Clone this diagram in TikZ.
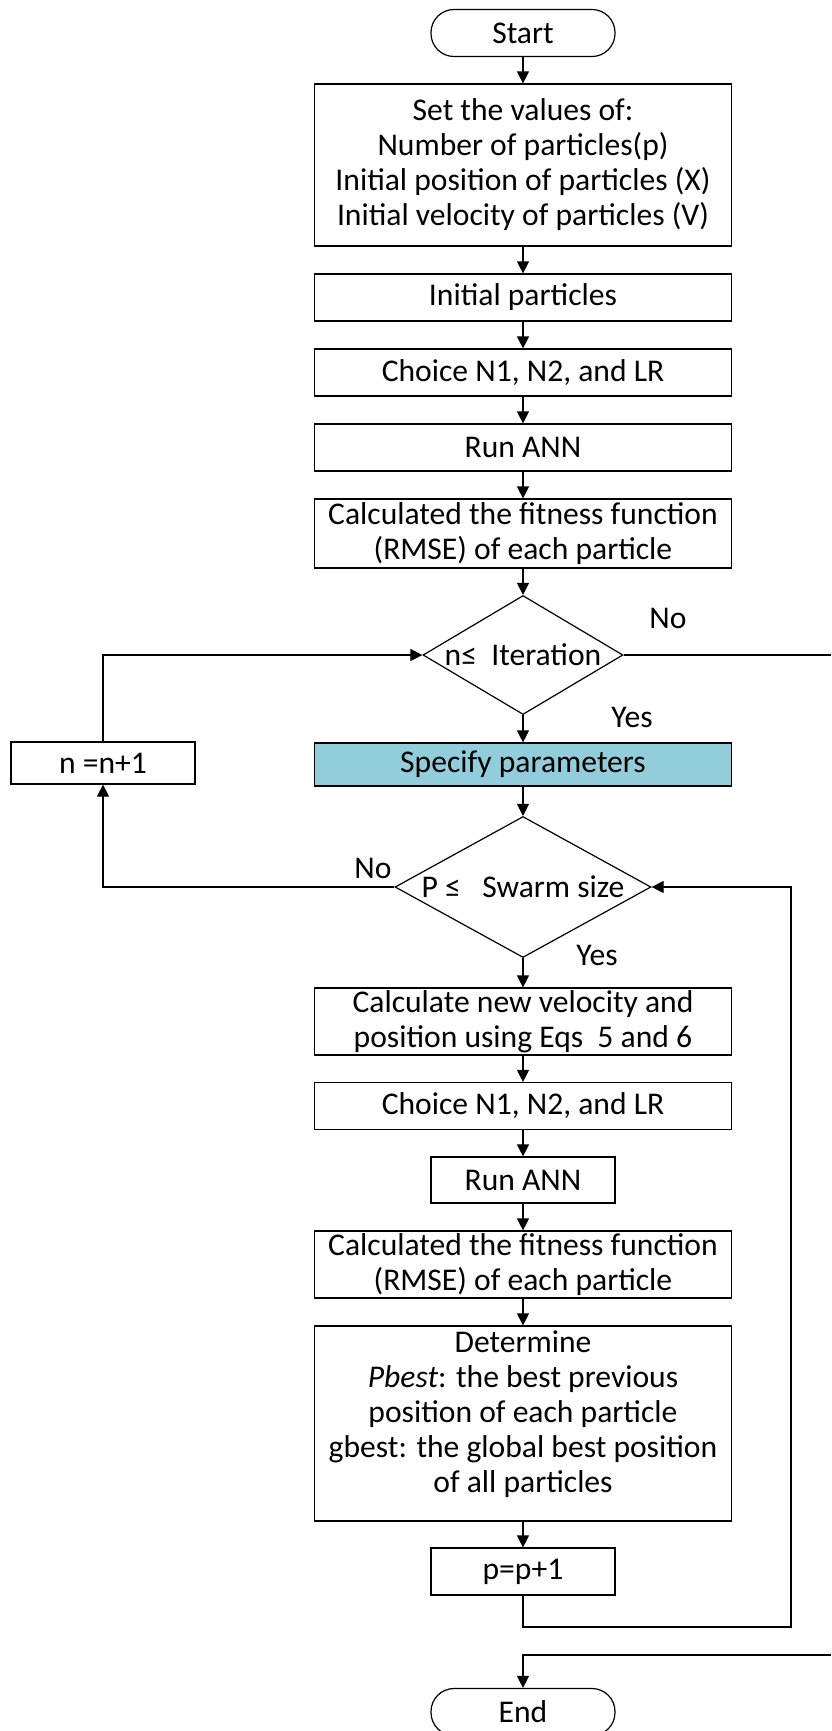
\documentclass[tikz,border=0pt]{standalone}
\usepackage{fontspec}
\setmainfont{Carlito}
\usepackage{tikz}
\usetikzlibrary{shapes.geometric}
\usetikzlibrary{arrows.meta}
\usetikzlibrary{positioning}
\definecolor{specblue}{HTML}{92CDDC}
\newcommand{\dtext}[1]{\smash{\makebox[0pt]{\raisebox{-5pt}{#1}}}}
\tikzset{
	box/.style={
			rectangle,draw=black,line width=0.6pt,align=center,inner sep=1pt,
			minimum width=208.5pt,minimum height=23.5pt,
			font=\fontsize{15.8}{17.5}\selectfont
		},
	term/.style={
			box,rounded corners=11.5pt,minimum width=92pt
		},
	decision/.style={
			diamond,draw=black,line width=0.6pt,inner sep=0pt,
			font=\fontsize{15.8}{17.5}\selectfont
		},
	lbl/.style={font=\fontsize{15.8}{17.5}\selectfont,inner sep=0pt},
	arr/.style={line width=0.6pt,-{Triangle[length=6pt,width=6pt]}},
	ln/.style={line width=0.6pt}
}

\begin{document}
\begin{tikzpicture}[x=0.5pt,y=-0.5pt]
  \useasboundingbox (0,0) rectangle (831,1731);

  % main column
  \node[term] (start) at (523,33) {Start};
  \node[box,minimum height=81pt] (setv) at (523,165) {Set the values of:\\Number of particles(p)\\Initial position of particles (X)\\Initial velocity of particles (V)};
  \node[box] (initp) at (523,297.5) {Initial particles};
  \node[box] (choice1) at (523,372.5) {Choice N1, N2, and LR};
  \node[box] (run1) at (523,447.5) {Run ANN};
  \node[box,minimum height=34.5pt] (fit1) at (523,533.5) {Calculated the fitness function\\(RMSE) of each particle};
  \node[decision,minimum width=100pt,minimum height=59.5pt] (iter) at (523,655) {\dtext{n≤\ \ Iteration}};
  \node[box,fill=specblue,minimum height=21.5pt] (spec) at (523,764.5) {Specify parameters};
  \node[box,minimum width=92pt,minimum height=21pt] (nn) at (103,763) {n =n+1};
  \node[decision,minimum width=128pt,minimum height=70.5pt] (swarm) at (523,887) {\dtext{P ≤\ \ \ Swarm size}};
  \node[box,minimum height=33.5pt] (calc) at (523,1021.5) {Calculate new velocity and\\position using Eqs\ \ 5 and 6};
  \node[box] (choice2) at (523,1106) {Choice N1, N2, and LR};
  \node[box,minimum width=92pt,minimum height=23pt] (run2) at (523,1180) {Run ANN};
  \node[box,minimum height=33.5pt] (fit2) at (523,1264.5) {Calculated the fitness function\\(RMSE) of each particle};
  \node[box,minimum height=97.5pt] (det) at (523,1423.5) {Determine\\\textit{Pbest}: the best previous\\position of each particle\\gbest: the global best position\\of all particles\rule[-12pt]{0pt}{0pt}};
  \node[box,minimum width=92pt] (pp) at (523,1571.5) {p=p+1};
  \node[term] (end) at (523,1712) {End};

  % free ends
  \coordinate (noout) at (831,655);
  \coordinate (loopc) at (791,1627);
  \coordinate (endin) at (831,1655);

  % labels
  \node[lbl] (no1) at (668,618) {No};
  \node[lbl] (yes1) at (632,717) {Yes};
  \node[lbl] (no2) at (373,868) {No};
  \node[lbl] (yes2) at (597,955) {Yes};

  % connectors
  \draw[arr] (start) -- (setv);
  \draw[arr] (setv) -- (initp);
  \draw[arr] (initp) -- (choice1);
  \draw[arr] (choice1) -- (run1);
  \draw[arr] (run1) -- (fit1);
  \draw[arr] (fit1) -- (iter);
  \draw[arr] (iter) -- (spec);
  \draw[arr] (spec) -- (swarm);
  \draw[arr] (swarm) -- (calc);
  \draw[arr] (calc) -- (choice2);
  \draw[arr] (choice2) -- (run2);
  \draw[arr] (run2) -- (fit2);
  \draw[arr] (fit2) -- (det);
  \draw[arr] (det) -- (pp);
  \draw[arr] (swarm) -| (nn);
  \draw[arr] (nn) |- (iter);
  \draw[ln] (iter) -- (noout);
  \draw[arr] (pp) |- (loopc) |- (swarm);
  \draw[arr] (endin) -| (end);
\end{tikzpicture}
\end{document}
